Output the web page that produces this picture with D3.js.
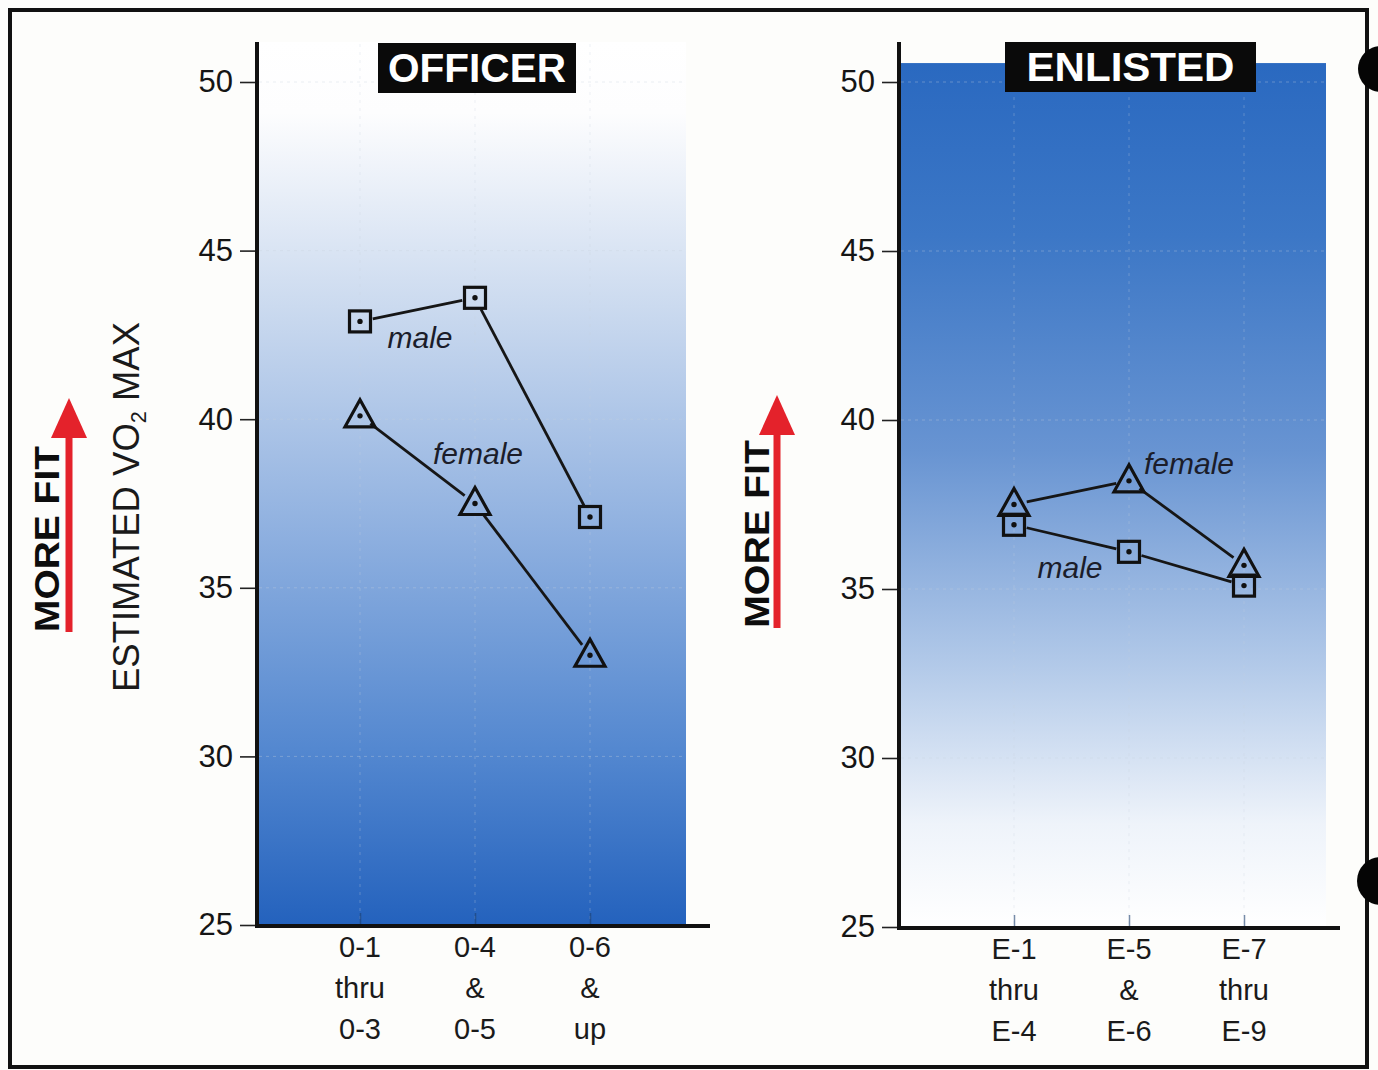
<!DOCTYPE html>
<html><head><meta charset="utf-8">
<script src="https://cdn.jsdelivr.net/npm/d3@7/dist/d3.min.js"></script>
<style>
html,body{margin:0;padding:0;background:#fdfdfb;}
svg{display:block;}
text{font-family:"Liberation Sans",Arial,Helvetica,sans-serif;}
</style></head>
<body>
<svg id="c" width="1378" height="1070"></svg>
<script>
// ---- data ----
const officerCats = [["0-1","thru","0-3"],["0-4","&","0-5"],["0-6","&","up"]];
const enlistedCats = [["E-1","thru","E-4"],["E-5","&","E-6"],["E-7","thru","E-9"]];
const officerMale = [42.9, 43.6, 37.1];
const officerFemale = [40.1, 37.5, 33.0];
const enlistedMale = [36.9, 36.1, 35.1];
const enlistedFemale = [37.5, 38.2, 35.7];
const yTicks = [25, 30, 35, 40, 45, 50];
const yDomain = [25, 50];
const enlistedBandTop = 50.56;

const svg = d3.select("#c");
const defs = svg.append("defs");

// gradients
const g1 = defs.append("linearGradient").attr("id","gOff").attr("x1",0).attr("y1",0).attr("x2",0).attr("y2",1);
[[0,"#ffffff"],[0.08,"#fdfdfe"],[0.3,"#cbdaef"],[0.55,"#90b1e0"],[0.8,"#5488d0"],[1,"#2462bd"]].forEach(s=>g1.append("stop").attr("offset",s[0]).attr("stop-color",s[1]));
const g2 = defs.append("linearGradient").attr("id","gEnl").attr("x1",0).attr("y1",0).attr("x2",0).attr("y2",1);
[[0,"#2a69c0"],[0.2,"#3c77c6"],[0.45,"#6894d2"],[0.7,"#b3cae9"],[0.88,"#eef3fa"],[1,"#ffffff"]].forEach(s=>g2.append("stop").attr("offset",s[0]).attr("stop-color",s[1]));

// outer frame
svg.append("rect").attr("x",10).attr("y",10).attr("width",1357).attr("height",1057)
  .attr("fill","#fdfdfb").attr("stroke","#111").attr("stroke-width",4);

function panel(opt){
  const y = d3.scaleLinear().domain(yDomain).range([opt.y0, 82]);
  const x = d3.scalePoint().domain(d3.range(3)).range([opt.xa, opt.xc]);
  const G = svg.append("g");
  const top = opt.bandTop!=null ? y(opt.bandTop) : 42;
  G.append("rect").attr("x",opt.ax+2).attr("y",top).attr("width",opt.bandRight-opt.ax-2)
    .attr("height",y(25)-top).attr("fill",`url(#${opt.grad})`);
  // grid
  G.selectAll(".hg").data(yTicks.slice(1)).join("line")
    .attr("x1",opt.ax+2).attr("x2",opt.bandRight).attr("y1",d=>y(d)).attr("y2",d=>y(d))
    .attr("stroke","#c9d3df").attr("stroke-width",1).attr("stroke-dasharray","3,4").attr("opacity",0.35);
  G.selectAll(".vg").data(d3.range(3)).join("line")
    .attr("x1",d=>x(d)).attr("x2",d=>x(d)).attr("y1",top+2).attr("y2",y(25))
    .attr("stroke","#c9d3df").attr("stroke-width",1).attr("stroke-dasharray","3,5").attr("opacity",0.3);
  // y axis
  const ya = G.append("g").attr("transform",`translate(${opt.ax},0)`)
    .call(d3.axisLeft(y).tickValues(yTicks).tickSize(17).tickPadding(7));
  ya.select(".domain").remove();
  ya.selectAll(".tick line").attr("stroke","#222").attr("stroke-width",1.6);
  ya.selectAll(".tick text").attr("font-size",31).attr("fill","#151515")
    .attr("font-family","Liberation Sans, Arial, sans-serif");
  G.append("line").attr("x1",opt.ax).attr("x2",opt.ax).attr("y1",42).attr("y2",y(25)+2)
    .attr("stroke","#111").attr("stroke-width",4);
  // x axis
  const xa = G.append("g").attr("transform",`translate(0,${y(25)})`)
    .call(d3.axisBottom(x).tickSize(-12).tickFormat(""));
  xa.select(".domain").remove();
  xa.selectAll(".tick line").attr("stroke","#1d3f70").attr("stroke-width",1.5).attr("opacity",0.6);
  G.append("line").attr("x1",opt.ax-2).attr("x2",opt.axisRight).attr("y1",y(25)+1).attr("y2",y(25)+1)
    .attr("stroke","#111").attr("stroke-width",4);
  // x labels
  opt.cats.forEach((c,i)=>{
    c.forEach((t,j)=>{
      G.append("text").attr("x",x(i)).attr("y",y(25)+32+j*41).attr("text-anchor","middle")
        .attr("font-size",29).attr("fill","#1a1a1a").text(t);
    });
  });
  // title
  G.append("rect").attr("x",opt.title.x).attr("y",opt.title.y).attr("width",opt.title.w).attr("height",50).attr("fill","#0a0a0a");
  G.append("text").attr("x",opt.title.x+opt.title.w/2).attr("y",opt.title.y+39).attr("text-anchor","middle")
    .attr("font-size",40).attr("font-weight","bold").attr("fill","#fff")
    .attr("textLength",opt.title.tl).attr("lengthAdjust","spacingAndGlyphs").text(opt.title.text);
  // series
  const R = 13;
  function seg(vals){
    const pts = vals.map((v,i)=>[x(i),y(v)]);
    const out=[];
    for(let i=0;i<pts.length-1;i++){
      const [x1,y1]=pts[i],[x2,y2]=pts[i+1];
      const dx=x2-x1,dy=y2-y1,L=Math.hypot(dx,dy);
      out.push([x1+dx/L*R,y1+dy/L*R,x2-dx/L*R,y2-dy/L*R]);
    }
    return out;
  }
  [opt.male,opt.female].forEach(vals=>{
    G.selectAll(null).data(seg(vals)).join("line")
      .attr("x1",d=>d[0]).attr("y1",d=>d[1]).attr("x2",d=>d[2]).attr("y2",d=>d[3])
      .attr("stroke","#161616").attr("stroke-width",2.8);
  });
  G.selectAll(null).data(opt.male).join("rect")
    .attr("x",(d,i)=>x(i)-10.5).attr("y",d=>y(d)-10.5).attr("width",21).attr("height",21)
    .attr("fill","none").attr("stroke","#111").attr("stroke-width",3.2);
  G.selectAll(null).data(opt.female).join("path")
    .attr("d",(d,i)=>{const cx=x(i),cy=y(d);return `M${cx},${cy-16}L${cx+15},${cy+11}L${cx-15},${cy+11}Z`;})
    .attr("fill","none").attr("stroke","#111").attr("stroke-width",3.2).attr("stroke-linejoin","miter");
  G.selectAll(null).data(opt.male.concat(opt.female)).join("circle")
    .attr("cx",(d,i)=>x(i%3)).attr("cy",d=>y(d)).attr("r",2.7).attr("fill","#111");
  opt.labels.forEach(l=>{
    G.append("text").attr("x",l.x).attr("y",l.y).attr("text-anchor","middle")
      .attr("font-size",30).attr("font-style","italic").attr("fill","#1b1d2a").text(l.t);
  });
  return {x,y};
}

panel({y0:925, ax:257, xa:360, xc:590, bandRight:686, axisRight:710, grad:"gOff", bandTop:null,
  cats:officerCats, male:officerMale, female:officerFemale,
  title:{x:378,y:43,w:198,text:"OFFICER",tl:178},
  labels:[{t:"male",x:420,y:348},{t:"female",x:478,y:464}]});
panel({y0:927, ax:899, xa:1014, xc:1244, bandRight:1326, axisRight:1340, grad:"gEnl", bandTop:enlistedBandTop,
  cats:enlistedCats, male:enlistedMale, female:enlistedFemale,
  title:{x:1005,y:42,w:251,text:"ENLISTED",tl:208},
  labels:[{t:"female",x:1189,y:474},{t:"male",x:1070,y:578}]});

function moreFit(tx, ax, yBottom, yTop, textBottom, textLen){
  svg.append("rect").attr("x",ax-3.5).attr("y",yTop+38).attr("width",7).attr("height",yBottom-yTop-38).attr("fill","#e4222b");
  svg.append("path").attr("d",`M${ax},${yTop}L${ax+18},${yTop+40}L${ax-18},${yTop+40}Z`).attr("fill","#e4222b");
  svg.append("text").attr("transform",`translate(${tx},${textBottom}) rotate(-90)`)
    .attr("font-size",35).attr("font-weight","bold").attr("fill","#0d0d0d")
    .attr("textLength",textLen).attr("lengthAdjust","spacingAndGlyphs").text("MORE FIT");
}
moreFit(59, 69, 632, 398, 632, 186);
moreFit(769, 777, 628, 395, 628, 188);

const yt = svg.append("text").attr("transform","translate(139,692) rotate(-90)")
  .attr("font-size",37).attr("fill","#1a1a1a").attr("textLength",370).attr("lengthAdjust","spacingAndGlyphs");
yt.append("tspan").text("ESTIMATED VO");
yt.append("tspan").attr("font-size",22).attr("dy",7).text("2");
yt.append("tspan").attr("dy",-7).text(" MAX");

svg.append("circle").attr("cx",1381).attr("cy",69).attr("r",23).attr("fill","#050505");
svg.append("circle").attr("cx",1381).attr("cy",881).attr("r",24).attr("fill","#050505");
</script>
</body></html>
